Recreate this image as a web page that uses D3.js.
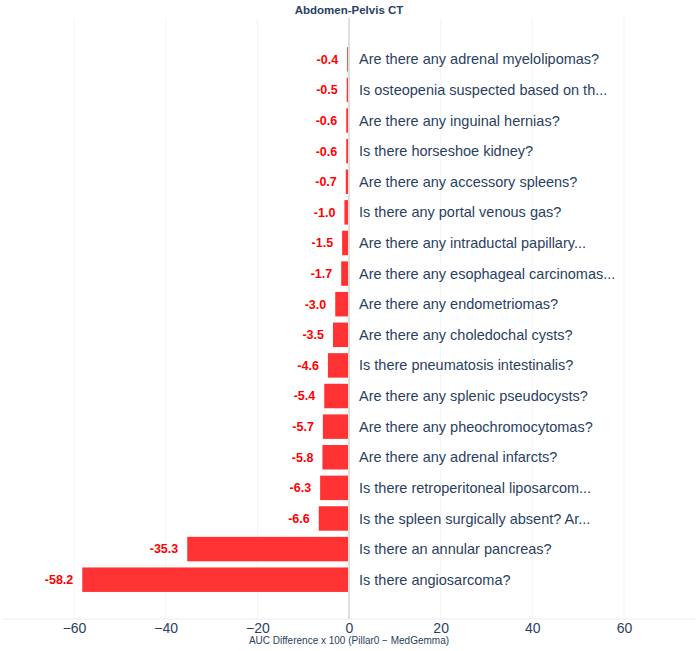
<!DOCTYPE html>
<html>
<head>
<meta charset="utf-8">
<script src="https://cdn.jsdelivr.net/npm/d3@7"></script>
<style>
  html, body { margin: 0; padding: 0; background: #fff; }
  svg { display: block; font-family: "Liberation Sans", Arial, Helvetica, sans-serif; }
</style>
</head>
<body>
<svg id="chart" width="698" height="651"></svg>
<script>
const title = "Abdomen-Pelvis CT";
const xAxisTitle = "AUC Difference x 100 (Pillar0 − MedGemma)";
const questions = [
  "Are there any adrenal myelolipomas?",
  "Is osteopenia suspected based on th...",
  "Are there any inguinal hernias?",
  "Is there horseshoe kidney?",
  "Are there any accessory spleens?",
  "Is there any portal venous gas?",
  "Are there any intraductal papillary...",
  "Are there any esophageal carcinomas...",
  "Are there any endometriomas?",
  "Are there any choledochal cysts?",
  "Is there pneumatosis intestinalis?",
  "Are there any splenic pseudocysts?",
  "Are there any pheochromocytomas?",
  "Are there any adrenal infarcts?",
  "Is there retroperitoneal liposarcom...",
  "Is the spleen surgically absent? Ar...",
  "Is there an annular pancreas?",
  "Is there angiosarcoma?"
];
const values = [-0.4, -0.5, -0.6, -0.6, -0.7, -1.0, -1.5, -1.7, -3.0, -3.5, -4.6, -5.4, -5.7, -5.8, -6.3, -6.6, -35.3, -58.2];
const xTicks = [-60, -40, -20, 0, 20, 40, 60];

const svg = d3.select("#chart");
const plotTop = 18, plotBottom = 619, plotLeft = 3, plotRight = 695;

const x = d3.scaleLinear().domain([-75.5, 75.5]).range([plotLeft, plotRight]);
const y = d3.scaleBand().domain(questions).range([44, 595]).paddingInner(0.2).paddingOuter(0.1);

// gridlines
svg.append("g").selectAll("line").data(xTicks.filter(d => d !== 0)).join("line")
  .attr("x1", d => x(d)).attr("x2", d => x(d))
  .attr("y1", plotTop).attr("y2", plotBottom)
  .attr("stroke", "#f4f4f4").attr("stroke-width", 1);

// bottom line
svg.append("line").attr("x1", plotLeft).attr("x2", plotRight)
  .attr("y1", plotBottom).attr("y2", plotBottom)
  .attr("stroke", "#ededed").attr("stroke-width", 1);

// bars
svg.append("g").selectAll("rect").data(values).join("rect")
  .attr("x", d => x(d))
  .attr("width", d => x(0) - x(d))
  .attr("y", (d, i) => y(questions[i]))
  .attr("height", y.bandwidth())
  .attr("fill", "#ff3333");

// zero line
svg.append("line").attr("x1", x(0)).attr("x2", x(0))
  .attr("y1", plotTop).attr("y2", plotBottom)
  .attr("stroke", "#e0e0e0").attr("stroke-width", 2);

// value labels
svg.append("g").selectAll("text").data(values).join("text")
  .attr("x", d => x(d) - 9)
  .attr("y", (d, i) => y(questions[i]) + y.bandwidth() / 2)
  .attr("dy", "0.35em")
  .attr("text-anchor", "end")
  .attr("font-size", 12.5)
  .attr("font-weight", "bold")
  .attr("fill", "#ff0000")
  .text(d => d.toFixed(1));

// question labels
svg.append("g").selectAll("text").data(questions).join("text")
  .attr("x", x(0) + 10)
  .attr("y", d => y(d) + y.bandwidth() / 2)
  .attr("dy", "0.35em")
  .attr("font-size", 14.5)
  .attr("fill", "#2a3f5f")
  .text(d => d);

// x axis
const xAxis = d3.axisBottom(x).tickValues(xTicks).tickSize(0).tickPadding(4)
  .tickFormat(d => d3.format("d")(d).replace("-", "−"));
const gx = svg.append("g").attr("transform", `translate(0,${plotBottom})`).call(xAxis);
gx.select(".domain").remove();
gx.selectAll("text").attr("font-size", 14).attr("fill", "#2a3f5f")
  .attr("font-family", "\"Liberation Sans\", Arial, sans-serif");

svg.append("text").attr("x", x(0)).attr("y", 644)
  .attr("text-anchor", "middle").attr("font-size", 10).attr("fill", "#2a3f5f")
  .text(xAxisTitle);

svg.append("text").attr("x", x(0)).attr("y", 14)
  .attr("text-anchor", "middle").attr("font-size", 11.5).attr("font-weight", "bold")
  .attr("fill", "#2a3f5f")
  .text(title);
</script>
</body>
</html>
